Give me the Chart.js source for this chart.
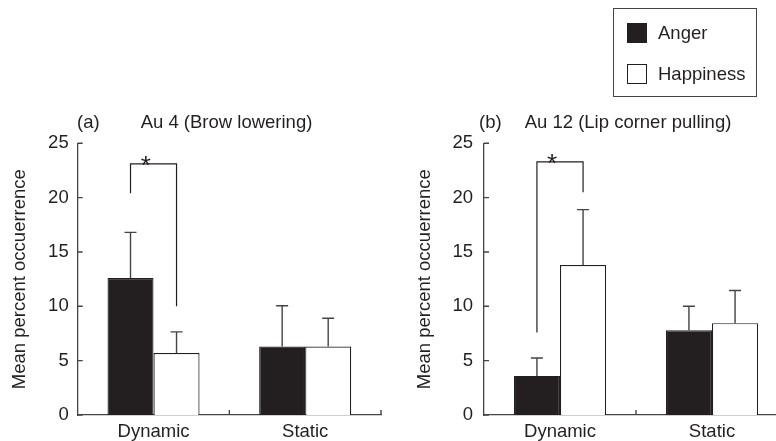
<!DOCTYPE html>
<html>
<head>
<meta charset="utf-8">
<script src="https://cdn.jsdelivr.net/npm/chart.js@4"></script>
<style>
    body { margin: 0; width: 776px; height: 441px; overflow: hidden; position: relative; background: #fff;
           font-family: "Liberation Sans", Arial, sans-serif; color: #231f20; }
    canvas { position: absolute; top: 0; }
    #legend { position: absolute; left: 613px; top: 8px; width: 142px; height: 87px; border: 1.5px solid #444; }
    .legend-item { position: absolute; left: 13px; height: 20px; display: flex; align-items: center; font-size: 18.5px; }
    .legend-swatch { width: 18px; height: 18px; border: 1.2px solid #231f20; margin-right: 11px; }
</style>
</head>
<body>
<canvas id="chart_a" width="390" height="441" style="left:0px"></canvas>
<canvas id="chart_b" width="400" height="441" style="left:390px"></canvas>
<div id="legend"></div>
<script>
'use strict';

const categories = ['Dynamic', 'Static'];
const series_names = ['Anger', 'Happiness'];
const series_colors = ['#231f20', '#ffffff'];
const y_ticks = [0, 5, 10, 15, 20, 25];

// Au 4 (Brow lowering): means and upper error bar lengths
const au4_anger = [12.6, 6.3];
const au4_anger_err = [4.2, 3.75];
const au4_happiness = [5.7, 6.3];
const au4_happiness_err = [1.95, 2.6];
// significance bracket: left foot, top, right foot
const au4_bracket = [20.4, 23.1, 10.0];

// Au 12 (Lip corner pulling)
const au12_anger = [3.6, 7.8];
const au12_anger_err = [1.65, 2.2];
const au12_happiness = [13.8, 8.45];
const au12_happiness_err = [5.1, 3.0];
const au12_bracket = [7.6, 23.3, 20.5];

const ink = '#231f20';
const line_grey = '#444';
const font_family = '"Liberation Sans", Arial, sans-serif';
const font_size = 18.5;

// error bars, inward ticks, brackets and panel titles
const extras_plugin = {
    id: 'extras',
    afterDatasetsDraw(chart, args, opts) {
        const ctx = chart.ctx;
        const x = chart.scales.x;
        const y = chart.scales.y;
        const area = chart.chartArea;
        ctx.save();
        ctx.strokeStyle = line_grey;
        ctx.lineWidth = 1.4;

        chart.data.datasets.forEach((ds, i) => {
            const meta = chart.getDatasetMeta(i);
            meta.data.forEach((bar, j) => {
                const top = y.getPixelForValue(ds.data[j] + ds.errors[j]);
                ctx.beginPath();
                ctx.moveTo(bar.x, bar.y);
                ctx.lineTo(bar.x, top);
                ctx.moveTo(bar.x - 6, top);
                ctx.lineTo(bar.x + 6, top);
                ctx.stroke();
            });
        });

        // inward tick marks
        ctx.beginPath();
        for (const t of y.ticks) {
            const py = y.getPixelForValue(t.value);
            ctx.moveTo(area.left, py);
            ctx.lineTo(area.left + 5, py);
        }
        for (let i = 0; i < categories.length; i++) {
            const px = i < categories.length - 1
                ? (x.getPixelForValue(i) + x.getPixelForValue(i + 1)) / 2
                : area.right;
            ctx.moveTo(px, area.bottom);
            ctx.lineTo(px, area.bottom - 5);
        }
        ctx.stroke();

        // significance bracket between the two Dynamic bars
        const x1 = chart.getDatasetMeta(0).data[0].x;
        const x2 = chart.getDatasetMeta(1).data[0].x;
        const [foot1, top, foot2] = opts.bracket;
        ctx.strokeStyle = ink;
        ctx.lineWidth = 1.2;
        ctx.beginPath();
        ctx.moveTo(x1, y.getPixelForValue(foot1));
        ctx.lineTo(x1, y.getPixelForValue(top));
        ctx.lineTo(x2, y.getPixelForValue(top));
        ctx.lineTo(x2, y.getPixelForValue(foot2));
        ctx.stroke();

        ctx.fillStyle = ink;
        ctx.textBaseline = 'alphabetic';
        ctx.textAlign = 'center';
        ctx.font = `26px ${font_family}`;
        ctx.fillText('*', x1 + (x2 - x1) * 0.33, y.getPixelForValue(top) + 10);

        ctx.font = `${font_size}px ${font_family}`;
        ctx.textAlign = 'left';
        ctx.fillText(opts.tag, opts.tag_x, 128);
        ctx.textAlign = 'center';
        ctx.fillText(opts.title, opts.title_x, 128);
        ctx.restore();
    }
};

const make_panel = (canvas_id, anger, anger_err, happiness, happiness_err, panel) => {
    const canvas = document.querySelector(canvas_id);
    return new Chart(canvas, {
        type: 'bar',
        data: {
            labels: categories,
            datasets: [
                { label: series_names[0], data: anger, errors: anger_err, backgroundColor: series_colors[0] },
                { label: series_names[1], data: happiness, errors: happiness_err, backgroundColor: series_colors[1] }
            ].map(ds => ({ ...ds, borderColor: ink, borderWidth: 1.2, categoryPercentage: 0.607, barPercentage: 1 }))
        },
        options: {
            responsive: false,
            animation: false,
            devicePixelRatio: 1,
            layout: { padding: { top: 143.3, right: panel.pad_right, left: 0, bottom: 0 } },
            plugins: {
                legend: { display: false },
                tooltip: { enabled: false },
                extras: panel
            },
            scales: {
                x: {
                    offset: true,
                    grid: { display: false, drawTicks: false },
                    border: { display: true, color: line_grey, width: 1.3 },
                    ticks: { color: ink, padding: 6, font: { size: font_size, family: font_family } },
                    afterFit: s => { s.height = 26; }
                },
                y: {
                    min: 0,
                    max: 25,
                    afterBuildTicks: s => { s.ticks = y_ticks.map(v => ({ value: v })); },
                    grid: { display: false, drawTicks: false },
                    border: { display: true, color: line_grey, width: 1.3 },
                    ticks: { color: ink, padding: panel.tick_pad, font: { size: font_size, family: font_family } },
                    title: {
                        display: true,
                        text: 'Mean percent occuerrence',
                        color: ink,
                        padding: { top: panel.title_pad, bottom: 0 },
                        font: { size: font_size, family: font_family }
                    },
                    afterFit: s => { s.width = panel.axis_width; }
                }
            }
        },
        plugins: [extras_plugin]
    });
};

make_panel('#chart_a', au4_anger, au4_anger_err, au4_happiness, au4_happiness_err, {
    bracket: au4_bracket, tag: '(a)', tag_x: 77, title: 'Au 4 (Brow lowering)', title_x: 226.5,
    pad_right: 9, axis_width: 77.7, tick_pad: 9, title_pad: 9
});

make_panel('#chart_b', au12_anger, au12_anger_err, au12_happiness, au12_happiness_err, {
    bracket: au12_bracket, tag: '(b)', tag_x: 89, title: 'Au 12 (Lip corner pulling)', title_x: 238,
    pad_right: 2, axis_width: 94, tick_pad: 11, title_pad: 24
});

const legend = document.querySelector('#legend');
series_names.forEach((name, i) => {
    const item = document.createElement('div');
    item.classList.add('legend-item');
    item.style.top = `${14 + i * 41}px`;
    const swatch = document.createElement('div');
    swatch.classList.add('legend-swatch');
    swatch.style.background = series_colors[i];
    item.appendChild(swatch);
    item.appendChild(document.createTextNode(name));
    legend.appendChild(item);
});
</script>
</body>
</html>
